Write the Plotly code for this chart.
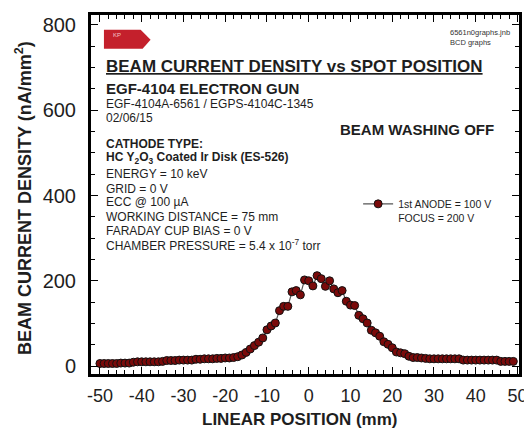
import plotly.graph_objects as go

# ---- data ----
position_mm = list(range(-50, 50))
current_density = [
    6, 6, 6, 6, 6, 7, 7, 7,            # -50..-43
    9, 10, 10, 10, 10, 10, 10, 11,     # -42..-35
    13, 13, 13, 14, 14, 14, 14,        # -34..-28
    16, 16, 17, 17, 17, 18, 18,        # -27..-21
    19, 19, 20, 22, 26, 32, 40, 48, 56, 66,   # -20..-11
    85, 94, 101, 130, 140, 140, 174, 177, 167, 202,  # -10..-1
    200, 188, 212, 205, 187, 200, 181, 172, 177, 152,  # 0..9
    143, 142, 119, 111, 101, 84, 78, 70, 57, 51,  # 10..19
    43, 33, 31, 29, 23, 20, 20, 19, 18, 17,      # 20..29
    17, 17, 17, 17, 17, 17, 17,                  # 30..36
    14, 14, 14, 14, 14, 14, 14, 14, 14,          # 37..45
    11, 11, 11, 11,                              # 46..49
]
x_ticks = [-50, -40, -30, -20, -10, 0, 10, 20, 30, 40, 50]
y_ticks = [0, 200, 400, 600, 800]
series_name = "1st ANODE = 100 V<br>FOCUS = 200 V"

FONT = "Liberation Sans, Arial, sans-serif"
TXT = "#1e1e1e"

# page body has an 8px margin; figure sized so that it fits the window exactly
OFF = 8
W, H = 524, 429
L, R, T, B = 83, 10, 4, 63
PW, PH = W - L - R, H - T - B


def px(x, y):
    """screen pixel -> paper coords"""
    return ((x - OFF) - L) / PW, ((H - B) - (y - OFF)) / PH


fig = go.Figure()
fig.add_trace(go.Scatter(
    x=position_mm, y=current_density, mode="lines+markers",
    name=series_name,
    line=dict(color="#555555", width=1.2),
    marker=dict(size=8, color="#7a0a0a", line=dict(color="#111111", width=1)),
))

annotations = []


def text(x, y, s, size, bold=False, anchor="left", color=TXT, angle=0, valign="middle"):
    ax, ay = px(x, y)
    annotations.append(dict(
        x=ax, y=ay, xref="paper", yref="paper", text=(f"<b>{s}</b>" if bold else s),
        showarrow=False, xanchor=anchor, yanchor=valign, textangle=angle,
        font=dict(family=FONT, size=size, color=color),
    ))


text(104, 64, "<u>BEAM CURRENT DENSITY vs SPOT POSITION</u>", 17, bold=True)
text(104, 86, "EGF-4104 ELECTRON GUN", 15, bold=True)
text(104, 102, "EGF-4104A-6561 / EGPS-4104C-1345", 12)
text(104, 116, "02/06/15", 12)
text(340, 127, "BEAM WASHING OFF", 15, bold=True)
text(104, 142, "CATHODE TYPE:", 12, bold=True)
text(104, 156, "HC Y<sub>2</sub>O<sub>3</sub> Coated Ir Disk (ES-526)", 12, bold=True)
text(104, 172, "ENERGY = 10 keV", 12)
text(104, 187, "GRID = 0 V", 12)
text(104, 201, "ECC @ 100 \u00b5A", 12)
text(104, 216, "WORKING DISTANCE = 75 mm", 12)
text(104, 230, "FARADAY CUP BIAS = 0 V", 12)
text(104, 244, "CHAMBER PRESSURE = 5.4 x 10<sup>-7</sup> torr", 12)
text(451, 30, "6561n0graphs.jnb", 7.5, color="#333333")
text(451, 40, "BCD graphs", 7.5, color="#333333")
text(111, 32, "KP", 6, color="#f3c9c9")
# axis titles
text(23, 196, "BEAM CURRENT DENSITY (nA/mm<sup>2</sup>)", 18, bold=True, anchor="center", angle=-90)
text(301, 420, "LINEAR POSITION (mm)", 17, bold=True, anchor="center")

# KP flag
pts = [(104, 27), (141, 27), (151, 37), (143, 46), (104, 46)]
path = "M " + " L ".join(f"{px(a, b)[0]:.4f},{px(a, b)[1]:.4f}" for a, b in pts) + " Z"
shapes = [dict(type="path", path=path, xref="paper", yref="paper",
               fillcolor="#c4202c", line=dict(width=0), layer="above")]

lx, ly = px(360, 189)
fig.update_layout(
    width=W, height=H,
    margin=dict(l=L, r=R, t=T, b=B),
    paper_bgcolor="white", plot_bgcolor="white",
    showlegend=True,
    legend=dict(x=lx, y=ly, xanchor="left", yanchor="top", valign="top",
                bgcolor="rgba(0,0,0,0)", font=dict(family=FONT, size=10.5, color=TXT),
                itemwidth=30, tracegroupgap=0),
    annotations=annotations,
    shapes=shapes,
    xaxis=dict(
        range=[-52.14, 50.36], tickvals=x_ticks, ticktext=[str(v) for v in x_ticks],
        ticks="inside", ticklen=7, tickwidth=1.2, tickcolor="black",
        minor=dict(dtick=2, ticks="inside", ticklen=4, tickwidth=1, tickcolor="black"),
        showline=True, linewidth=3, linecolor="black", mirror="allticks",
        showgrid=False, zeroline=False,
        tickfont=dict(family=FONT, size=18, color=TXT), ticklabelstandoff=3,
    ),
    yaxis=dict(
        range=[-18.6, 823.3], tickvals=y_ticks, ticktext=[str(v) for v in y_ticks],
        ticks="inside", ticklen=7, tickwidth=1.2, tickcolor="black",
        minor=dict(dtick=50, ticks="inside", ticklen=4, tickwidth=1, tickcolor="black"),
        showline=True, linewidth=3, linecolor="black", mirror="allticks",
        showgrid=False, zeroline=False,
        tickfont=dict(family=FONT, size=20, color=TXT), ticklabelstandoff=8,
    ),
)

fig.write_html("out.html")
